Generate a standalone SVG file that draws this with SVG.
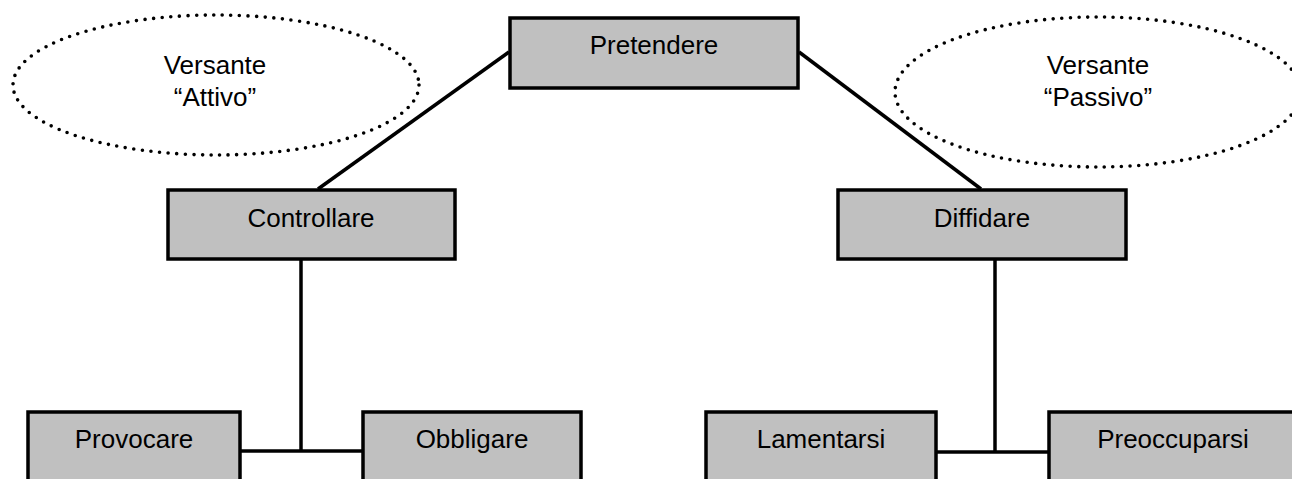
<svg xmlns="http://www.w3.org/2000/svg" width="1292" height="479" viewBox="0 0 1292 479">
<style>
.box{fill:#c0c0c0;stroke:#000;stroke-width:3.5}
.lbl{font-family:"Liberation Sans",Arial,sans-serif;font-size:26px;fill:#000;text-anchor:middle}
.conn{stroke:#000;stroke-width:3.5;fill:none}
.dot{fill:none;stroke:#000;stroke-width:3.6;stroke-dasharray:0 8.6;stroke-linecap:round}
</style>
<rect width="1292" height="479" fill="#fff"/>
<g id="connectors">
<line class="conn" x1="509" y1="52" x2="318" y2="189"/>
<line class="conn" x1="799" y1="52" x2="981" y2="189"/>
<line class="conn" x1="301" y1="260" x2="301" y2="451"/>
<line class="conn" x1="241" y1="451" x2="362" y2="451"/>
<line class="conn" x1="995" y1="260" x2="995" y2="452"/>
<line class="conn" x1="937" y1="452" x2="1048" y2="452"/>
</g>
<g id="versante-attivo">
<ellipse class="dot" cx="216" cy="85" rx="203" ry="70"/>
<text class="lbl" x="215" y="74">Versante</text>
<text class="lbl" x="215" y="106">“Attivo”</text>
</g>
<g id="versante-passivo">
<ellipse class="dot" cx="1098" cy="92" rx="203" ry="75"/>
<text class="lbl" x="1098" y="74">Versante</text>
<text class="lbl" x="1098" y="106">“Passivo”</text>
</g>
<g id="pretendere">
<rect class="box" x="510" y="18" width="288" height="70"/>
<text class="lbl" x="654" y="54">Pretendere</text>
</g>
<g id="controllare">
<rect class="box" x="168" y="190" width="287" height="69"/>
<text class="lbl" x="311" y="227">Controllare</text>
</g>
<g id="diffidare">
<rect class="box" x="838" y="190" width="288" height="69"/>
<text class="lbl" x="982" y="227">Diffidare</text>
</g>
<g id="provocare">
<rect class="box" x="28" y="412" width="212" height="80"/>
<text class="lbl" x="134" y="448">Provocare</text>
</g>
<g id="obbligare">
<rect class="box" x="363" y="412" width="218" height="80"/>
<text class="lbl" x="472" y="448">Obbligare</text>
</g>
<g id="lamentarsi">
<rect class="box" x="706" y="412" width="230" height="80"/>
<text class="lbl" x="821" y="448">Lamentarsi</text>
</g>
<g id="preoccuparsi">
<rect class="box" x="1049" y="412" width="252" height="80"/>
<text class="lbl" x="1173" y="448">Preoccuparsi</text>
</g>
</svg>
